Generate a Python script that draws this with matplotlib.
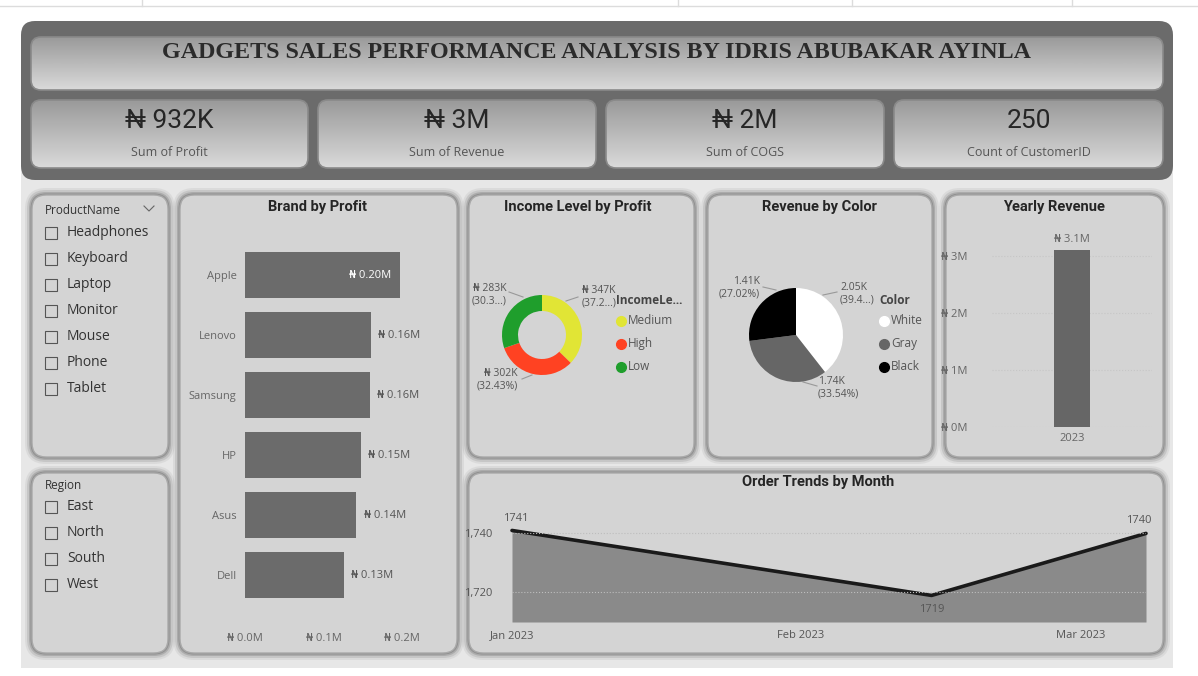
import numpy as np
import matplotlib.pyplot as plt
from matplotlib.patches import FancyBboxPatch, Rectangle
from matplotlib.colors import LinearSegmentedColormap

W, H = 1198, 676

# ---- data ----
title = "GADGETS SALES PERFORMANCE ANALYSIS BY IDRIS ABUBAKAR AYINLA"
kpi_values = ["₦ 932K", "₦ 3M", "₦ 2M", "250"]
kpi_labels = ["Sum of Profit", "Sum of Revenue", "Sum of COGS", "Count of CustomerID"]

products = ["Headphones", "Keyboard", "Laptop", "Monitor", "Mouse", "Phone", "Tablet"]
regions = ["East", "North", "South", "West"]

brands = ["Apple", "Lenovo", "Samsung", "HP", "Asus", "Dell"]
brand_profit = [0.197, 0.160, 0.159, 0.148, 0.142, 0.126]   # millions

income_levels = ["Medium", "High", "Low"]
income_profit = [347.4, 302.3, 282.6]                      # thousands
income_colors = ["#e1e535", "#ff4222", "#1f9e2c"]
income_trunc = [True, False, True]

color_names = ["White", "Gray", "Black"]
color_revenue = [2050.9, 1744.1, 1405.1]
color_colors = ["#ffffff", "#666666", "#000000"]
color_trunc = [True, False, False]

years = ["2023"]
yearly_revenue = [3.1]                                      # millions

order_days = [0, 45, 68]                                    # days from 1 Jan 2023
order_counts = [1741, 1719, 1740]
month_ticks = [0, 31, 61]
month_labels = ["Jan 2023", "Feb 2023", "Mar 2023"]

SANS = ["Open Sans", "DejaVu Sans"]
HEAD = ["Roboto", "DejaVu Sans"]

fig = plt.figure(figsize=(W / 100, H / 100), dpi=100)
fig.patch.set_facecolor("white")
bg = fig.add_axes([0, 0, 1, 1])
bg.set_xlim(0, W)
bg.set_ylim(H, 0)
bg.axis("off")


def add_ax(x0, y0, x1, y1):
    a = fig.add_axes([x0 / W, 1 - y1 / H, (x1 - x0) / W, (y1 - y0) / H])
    a.set_facecolor("none")
    for s in a.spines.values():
        s.set_visible(False)
    return a


def rbox(x0, y0, x1, y1, r, **kw):
    p = FancyBboxPatch((x0, y0), x1 - x0, y1 - y0,
                       boxstyle=f"round,pad=0,rounding_size={r}", **kw)
    bg.add_patch(p)
    return p


grad_cmap = LinearSegmentedColormap.from_list("g", ["#9a9a9a", "#dadada"])


def grad_box(x0, y0, x1, y1, r):
    p = rbox(x0, y0, x1, y1, r, fc="none", ec="#8a8a8a", lw=1.2, zorder=3)
    g = np.linspace(0, 1, 100).reshape(-1, 1)
    im = bg.imshow(g, extent=(x0, x1, y1, y0), cmap=grad_cmap, aspect="auto", zorder=2)
    im.set_clip_path(p)


def panel(x0, y0, x1, y1, r=14):
    for d, a in [(7, 0.10), (5, 0.18), (3, 0.30), (1.5, 0.45)]:
        rbox(x0 - d, y0 - d, x1 + d, y1 + d, r + d, fc="#6e6e6e", ec="none", alpha=a, zorder=1)
    rbox(x0, y0, x1, y1, r, fc="#d4d4d4", ec="#a9a9a9", lw=1.0, zorder=2)


# top ribbon remnant
bg.plot([0, W], [6, 6], color="#dcdcdc", lw=1)
for x in [142, 678, 852, 1072]:
    bg.plot([x, x], [0, 6], color="#dcdcdc", lw=1)

# lower background and header
bg.add_patch(Rectangle((21, 170), 1152, 498, fc="#e7e7e7", ec="none", zorder=0))
rbox(21, 21, 1173, 180, 14, fc="#6b6b6b", ec="none", zorder=1)
grad_box(31, 37, 1163, 90, 10)
bg.text(597, 52, title, ha="center", va="center", fontsize=17.3, fontweight="bold",
        family=["Liberation Serif", "DejaVu Serif"], color="#2b2b2b", zorder=5)

card_x = [(31, 308), (318, 596), (606, 884), (894, 1163)]
for (x0, x1), v, lab in zip(card_x, kpi_values, kpi_labels):
    grad_box(x0, 100, x1, 168, 10)
    bg.text((x0 + x1) / 2, 121, v, ha="center", va="center", fontsize=19,
            family=HEAD, color="#262626", zorder=5)
    bg.text((x0 + x1) / 2, 152, lab, ha="center", va="center", fontsize=9,
            family=SANS, color="#555555", zorder=5)

# panels
panel(32, 195, 168, 457)
panel(32, 473, 168, 653)
panel(180, 195, 457, 653)
panel(469, 195, 694, 457)
panel(708, 195, 932, 457)
panel(946, 195, 1163, 457)
panel(469, 473, 1163, 653)

# slicers
bg.text(45, 211, "ProductName", fontsize=8.5, family=SANS, color="#333333", va="center", zorder=5)
bg.plot([144, 149, 154], [206, 211, 206], color="#666666", lw=0.8, zorder=5)
for i, name in enumerate(products):
    y = 233 + i * 26
    bg.add_patch(Rectangle((45, y - 6), 12, 12, fc="none", ec="#555555", lw=0.8, zorder=5))
    bg.text(67, y - 1, name, fontsize=10, family=SANS, color="#333333", va="center", zorder=5)
bg.text(45, 485, "Region", fontsize=8.5, family=SANS, color="#333333", va="center", zorder=5)
for i, name in enumerate(regions):
    y = 507 + i * 26
    bg.add_patch(Rectangle((45, y - 6), 12, 12, fc="none", ec="#555555", lw=0.8, zorder=5))
    bg.text(67, y - 1, name, fontsize=10, family=SANS, color="#333333", va="center", zorder=5)

# chart titles
for x, y, t in [(317, 207, "Brand by Profit"), (578, 207, "Income Level by Profit"),
                (820, 207, "Revenue by Color"), (1054, 207, "Yearly Revenue"),
                (818, 482, "Order Trends by Month")]:
    bg.text(x, y, t, ha="center", va="center", fontsize=10.5, fontweight="bold",
            family=HEAD, color="#252525", zorder=5)

# ---- Brand by Profit ----
ax = add_ax(245, 245, 402, 605)
ypos = np.arange(len(brands))
ax.barh(ypos, brand_profit, height=0.77, color="#6b6b6b")
ax.set_xlim(0, 0.2)
ax.set_ylim(len(brands) - 0.5, -0.5)
ax.set_yticks(ypos, brands)
ax.set_xticks([0, 0.1, 0.2], [f"₦ {v:.1f}M" for v in [0, 0.1, 0.2]])
ax.tick_params(length=0, labelsize=8, labelcolor="#666666")
ax.tick_params(axis="x", pad=20)
ax.tick_params(axis="y", pad=6)
for lab in ax.get_xticklabels() + ax.get_yticklabels():
    lab.set_family(SANS)
for yv, v in zip(ypos, brand_profit):
    if v > 0.19:
        ax.text(v - 0.011, yv, f"₦ {v:.2f}M", ha="right", va="center", fontsize=8,
                color="white", family=SANS)
    else:
        ax.text(v + 0.009, yv, f"₦ {v:.2f}M", ha="left", va="center", fontsize=8,
                color="#555555", family=SANS, clip_on=False)

# ---- Income Level donut ----
ax = add_ax(502, 295, 582, 375)
ax.pie(income_profit, colors=income_colors, startangle=90, counterclock=False,
       wedgeprops=dict(width=0.4, edgecolor="none"))
ax.set_xlim(-1, 1)
ax.set_ylim(-1, 1)
tot = sum(income_profit)
inc_txt = [(582, 297, "left"), (518, 380, "right"), (507, 295, "right")]
inc_lines = [[(566, 301), (578, 297)], [(522, 379), (532, 375)], [(509, 292), (523, 297)]]
for v, tr, (tx, ty, ha), ln in zip(income_profit, income_trunc, inc_txt, inc_lines):
    pct = f"({100 * v / tot:.2f}%)"
    if tr:
        pct = pct[:5] + "...)"
    bg.text(tx, ty, f"₦ {v:.0f}K\n{pct}", ha=ha, va="center", fontsize=7.5,
            family=SANS, color="#555555", linespacing=1.15, zorder=5)
    xs, ys = zip(*ln)
    bg.plot(xs, ys, color="#999999", lw=0.8, zorder=5)
bg.text(616, 301, "IncomeLe...", fontsize=8.5, fontweight="bold", family=SANS,
        color="#444444", va="center", zorder=5)
for i, (t, c) in enumerate(zip(income_levels, income_colors)):
    y = 321 + i * 23
    bg.plot(621, y, "o", ms=7, color=c, zorder=5)
    bg.text(628, y, t, fontsize=8.5, family=SANS, color="#555555", va="center", zorder=5)

# ---- Revenue by Color pie ----
ax = add_ax(749, 288, 843, 382)
ax.pie(color_revenue, colors=color_colors, startangle=90, counterclock=False,
       wedgeprops=dict(edgecolor="none"))
ax.set_xlim(-1, 1)
ax.set_ylim(-1, 1)
tot = sum(color_revenue)
col_txt = [(840, 294, "left"), (818, 388, "left"), (760, 288, "right")]
col_lines = [[(823, 295), (837, 292)], [(803, 382), (817, 386)], [(763, 287), (776, 290)]]
for v, tr, (tx, ty, ha), ln in zip(color_revenue, color_trunc, col_txt, col_lines):
    pct = f"({100 * v / tot:.2f}%)"
    if tr:
        pct = pct[:5] + "...)"
    bg.text(tx, ty, f"{v / 1000:.2f}K\n{pct}", ha=ha, va="center", fontsize=7.5,
            family=SANS, color="#555555", linespacing=1.15, zorder=5)
    xs, ys = zip(*ln)
    bg.plot(xs, ys, color="#999999", lw=0.8, zorder=5)
bg.text(879, 301, "Color", fontsize=8.5, fontweight="bold", family=SANS,
        color="#444444", va="center", zorder=5)
for i, (t, c) in enumerate(zip(color_names, color_colors)):
    y = 321 + i * 23
    bg.plot(884, y, "o", ms=7, color=c, zorder=5)
    bg.text(891, y, t, fontsize=8.5, family=SANS, color="#555555", va="center", zorder=5)

# ---- Yearly Revenue ----
ax = add_ax(992, 245, 1152, 427)
ax.bar(years, yearly_revenue, width=0.22, color="#666666", zorder=3)
ax.set_xlim(-0.5, 0.5)
ax.set_ylim(0, 3.19)
ax.set_yticks([0, 1, 2, 3], [f"₦ {v}M" for v in [0, 1, 2, 3]])
ax.tick_params(length=0, labelsize=8, labelcolor="#666666")
ax.tick_params(axis="y", pad=37)
ax.tick_params(axis="x", pad=4)
for lab in ax.get_yticklabels():
    lab.set_horizontalalignment("left")
for lab in ax.get_xticklabels() + ax.get_yticklabels():
    lab.set_family(SANS)
ax.grid(axis="y", color="#c6c6c6", ls=":", lw=0.8)
for x, v in zip(years, yearly_revenue):
    ax.annotate(f"₦ {v}M", (x, v), xytext=(0, 4), textcoords="offset points",
                ha="center", va="bottom", fontsize=8, family=SANS, color="#666666")

# ---- Order Trends ----
ax = add_ax(512, 503, 1146, 622)
ax.fill_between(order_days, order_counts, 1710, color="#8a8a8a", lw=0)
ax.plot(order_days, order_counts, color="#1a1a1a", lw=2.6, clip_on=False, solid_capstyle="round")
ax.set_xlim(0, 68)
ax.set_ylim(1710, 1750.3)
ax.set_yticks([1720, 1740], [f"{v:,}" for v in [1720, 1740]])
ax.set_xticks(month_ticks, month_labels)
ax.tick_params(length=0, labelsize=8, labelcolor="#555555")
ax.tick_params(axis="y", pad=14)
ax.tick_params(axis="x", pad=6)
for lab in ax.get_xticklabels() + ax.get_yticklabels():
    lab.set_family(SANS)
ax.grid(axis="y", color="#bdbdbd", ls=":", lw=0.8)
ax.set_axisbelow(False)
offs = [(3, 5, "bottom"), (0, -6, "top"), (-5, 5, "bottom")]
for x, v, (dx, dy, va) in zip(order_days, order_counts, offs):
    ax.annotate(f"{v}", (x, v), xytext=(dx, dy), textcoords="offset points",
                ha="center", va=va, fontsize=8, family=SANS, color="#555555",
                annotation_clip=False)

bg.set_xlim(0, W)
bg.set_ylim(H, 0)
fig.savefig("out.png", dpi=100)
